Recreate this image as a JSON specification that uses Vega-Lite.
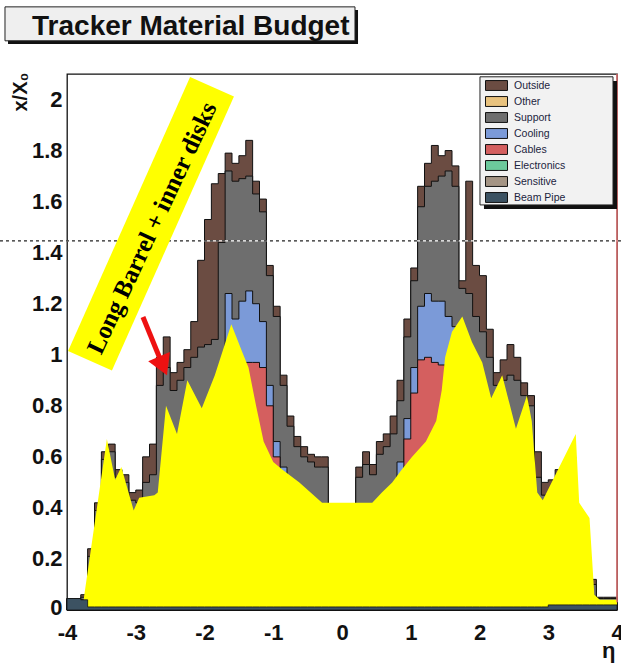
{
  "$schema": "https://vega.github.io/schema/vega-lite/v6.json",
  "width": 550,
  "height": 536,
  "autosize": "none",
  "padding": {"left": 67, "top": 74, "right": 4, "bottom": 55},
  "background": "#ffffff",
  "config": {
    "view": {"stroke": "#111111", "strokeWidth": 1.3},
    "font": "Liberation Sans",
    "axis": {"domain": false, "ticks": false, "grid": false, "labelFont": "Liberation Sans", "labelFontWeight": "bold", "labelColor": "#111111", "titleFont": "Liberation Sans", "titleFontWeight": "bold", "titleColor": "#111111", "labelOverlap": false, "labelFlush": false}
  },
  "datasets": {
    "hist": [
      {"eta": -4.0, "T": 0.045, "S": 0.045, "C": 0.045, "R": 0.045, "B": 0.045},
      {"eta": -3.9, "T": 0.045, "S": 0.045, "C": 0.045, "R": 0.045, "B": 0.045},
      {"eta": -3.8, "T": 0.06, "S": 0.05, "C": 0.04, "R": 0.04, "B": 0.04},
      {"eta": -3.7, "T": 0.24, "S": 0.21, "C": 0.02, "R": 0.02, "B": 0.012},
      {"eta": -3.6, "T": 0.42, "S": 0.39, "C": 0.02, "R": 0.02, "B": 0.012},
      {"eta": -3.5, "T": 0.62, "S": 0.59, "C": 0.02, "R": 0.02, "B": 0.012},
      {"eta": -3.4, "T": 0.65, "S": 0.62, "C": 0.02, "R": 0.02, "B": 0.012},
      {"eta": -3.3, "T": 0.55, "S": 0.52, "C": 0.02, "R": 0.02, "B": 0.012},
      {"eta": -3.2, "T": 0.53, "S": 0.5, "C": 0.02, "R": 0.02, "B": 0.012},
      {"eta": -3.1, "T": 0.46, "S": 0.43, "C": 0.02, "R": 0.02, "B": 0.012},
      {"eta": -3.0, "T": 0.47, "S": 0.42, "C": 0.02, "R": 0.02, "B": 0.012},
      {"eta": -2.9, "T": 0.6, "S": 0.5, "C": 0.02, "R": 0.02, "B": 0.012},
      {"eta": -2.8, "T": 0.65, "S": 0.53, "C": 0.02, "R": 0.02, "B": 0.012},
      {"eta": -2.7, "T": 0.99, "S": 0.88, "C": 0.02, "R": 0.02, "B": 0.012},
      {"eta": -2.6, "T": 1.07, "S": 0.95, "C": 0.02, "R": 0.02, "B": 0.012},
      {"eta": -2.5, "T": 0.93, "S": 0.86, "C": 0.02, "R": 0.02, "B": 0.012},
      {"eta": -2.4, "T": 0.97, "S": 0.9, "C": 0.02, "R": 0.02, "B": 0.012},
      {"eta": -2.3, "T": 1.02, "S": 0.95, "C": 0.02, "R": 0.02, "B": 0.012},
      {"eta": -2.2, "T": 1.13, "S": 0.99, "C": 0.02, "R": 0.02, "B": 0.012},
      {"eta": -2.1, "T": 1.37, "S": 1.03, "C": 0.02, "R": 0.02, "B": 0.012},
      {"eta": -2.0, "T": 1.53, "S": 1.04, "C": 0.02, "R": 0.02, "B": 0.012},
      {"eta": -1.9, "T": 1.67, "S": 1.06, "C": 0.02, "R": 0.02, "B": 0.012},
      {"eta": -1.8, "T": 1.71, "S": 1.44, "C": 0.02, "R": 0.02, "B": 0.012},
      {"eta": -1.7, "T": 1.79, "S": 1.72, "C": 1.24, "R": 0.9, "B": 0.012},
      {"eta": -1.6, "T": 1.75, "S": 1.68, "C": 1.14, "R": 0.9, "B": 0.012},
      {"eta": -1.5, "T": 1.78, "S": 1.69, "C": 1.21, "R": 0.9, "B": 0.012},
      {"eta": -1.4, "T": 1.84, "S": 1.7, "C": 1.25, "R": 0.97, "B": 0.012},
      {"eta": -1.3, "T": 1.68, "S": 1.63, "C": 1.2, "R": 0.97, "B": 0.012},
      {"eta": -1.2, "T": 1.61, "S": 1.56, "C": 1.13, "R": 0.95, "B": 0.012},
      {"eta": -1.1, "T": 1.35, "S": 1.31, "C": 0.88, "R": 0.8, "B": 0.012},
      {"eta": -1.0, "T": 1.19, "S": 1.15, "C": 0.66, "R": 0.6, "B": 0.012},
      {"eta": -0.9, "T": 0.92, "S": 0.88, "C": 0.56, "R": 0.53, "B": 0.012},
      {"eta": -0.8, "T": 0.76, "S": 0.72, "C": 0.02, "R": 0.02, "B": 0.012},
      {"eta": -0.7, "T": 0.68, "S": 0.64, "C": 0.02, "R": 0.02, "B": 0.012},
      {"eta": -0.6, "T": 0.64, "S": 0.6, "C": 0.02, "R": 0.02, "B": 0.012},
      {"eta": -0.5, "T": 0.61, "S": 0.58, "C": 0.02, "R": 0.02, "B": 0.012},
      {"eta": -0.4, "T": 0.6, "S": 0.56, "C": 0.02, "R": 0.02, "B": 0.012},
      {"eta": -0.3, "T": 0.6, "S": 0.56, "C": 0.02, "R": 0.02, "B": 0.012},
      {"eta": -0.2, "T": 0.38, "S": 0.38, "C": 0.02, "R": 0.02, "B": 0.012},
      {"eta": -0.1, "T": 0.38, "S": 0.38, "C": 0.02, "R": 0.02, "B": 0.012},
      {"eta": 0.0, "T": 0.38, "S": 0.38, "C": 0.02, "R": 0.02, "B": 0.012},
      {"eta": 0.1, "T": 0.38, "S": 0.38, "C": 0.02, "R": 0.02, "B": 0.012},
      {"eta": 0.2, "T": 0.56, "S": 0.52, "C": 0.02, "R": 0.02, "B": 0.012},
      {"eta": 0.3, "T": 0.62, "S": 0.57, "C": 0.02, "R": 0.02, "B": 0.012},
      {"eta": 0.4, "T": 0.57, "S": 0.53, "C": 0.02, "R": 0.02, "B": 0.012},
      {"eta": 0.5, "T": 0.66, "S": 0.61, "C": 0.02, "R": 0.02, "B": 0.012},
      {"eta": 0.6, "T": 0.69, "S": 0.64, "C": 0.02, "R": 0.02, "B": 0.012},
      {"eta": 0.7, "T": 0.76, "S": 0.69, "C": 0.02, "R": 0.02, "B": 0.012},
      {"eta": 0.8, "T": 0.9, "S": 0.82, "C": 0.58, "R": 0.52, "B": 0.012},
      {"eta": 0.9, "T": 1.14, "S": 1.07, "C": 0.75, "R": 0.67, "B": 0.012},
      {"eta": 1.0, "T": 1.34, "S": 1.29, "C": 0.95, "R": 0.85, "B": 0.012},
      {"eta": 1.1, "T": 1.66, "S": 1.58, "C": 1.19, "R": 0.98, "B": 0.012},
      {"eta": 1.2, "T": 1.75, "S": 1.66, "C": 1.24, "R": 0.99, "B": 0.012},
      {"eta": 1.3, "T": 1.82, "S": 1.68, "C": 1.21, "R": 0.97, "B": 0.012},
      {"eta": 1.4, "T": 1.78, "S": 1.7, "C": 1.21, "R": 0.96, "B": 0.012},
      {"eta": 1.5, "T": 1.8, "S": 1.72, "C": 1.15, "R": 0.9, "B": 0.012},
      {"eta": 1.6, "T": 1.74, "S": 1.66, "C": 1.11, "R": 0.85, "B": 0.012},
      {"eta": 1.7, "T": 1.29, "S": 1.26, "C": 0.02, "R": 0.02, "B": 0.012},
      {"eta": 1.8, "T": 1.68, "S": 1.24, "C": 0.02, "R": 0.02, "B": 0.012},
      {"eta": 1.9, "T": 1.35, "S": 1.15, "C": 0.02, "R": 0.02, "B": 0.012},
      {"eta": 2.0, "T": 1.31, "S": 1.09, "C": 0.02, "R": 0.02, "B": 0.012},
      {"eta": 2.1, "T": 1.1, "S": 0.99, "C": 0.02, "R": 0.02, "B": 0.012},
      {"eta": 2.2, "T": 0.93, "S": 0.88, "C": 0.02, "R": 0.02, "B": 0.012},
      {"eta": 2.3, "T": 0.98, "S": 0.9, "C": 0.02, "R": 0.02, "B": 0.012},
      {"eta": 2.4, "T": 1.04, "S": 0.92, "C": 0.02, "R": 0.02, "B": 0.012},
      {"eta": 2.5, "T": 0.99, "S": 0.9, "C": 0.02, "R": 0.02, "B": 0.012},
      {"eta": 2.6, "T": 0.89, "S": 0.84, "C": 0.02, "R": 0.02, "B": 0.012},
      {"eta": 2.7, "T": 0.84, "S": 0.8, "C": 0.02, "R": 0.02, "B": 0.012},
      {"eta": 2.8, "T": 0.62, "S": 0.52, "C": 0.02, "R": 0.02, "B": 0.012},
      {"eta": 2.9, "T": 0.5, "S": 0.45, "C": 0.02, "R": 0.02, "B": 0.012},
      {"eta": 3.0, "T": 0.51, "S": 0.45, "C": 0.02, "R": 0.02, "B": 0.02},
      {"eta": 3.1, "T": 0.55, "S": 0.48, "C": 0.02, "R": 0.02, "B": 0.02},
      {"eta": 3.2, "T": 0.57, "S": 0.5, "C": 0.02, "R": 0.02, "B": 0.02},
      {"eta": 3.3, "T": 0.6, "S": 0.52, "C": 0.02, "R": 0.02, "B": 0.02},
      {"eta": 3.4, "T": 0.35, "S": 0.3, "C": 0.02, "R": 0.02, "B": 0.02},
      {"eta": 3.5, "T": 0.3, "S": 0.25, "C": 0.02, "R": 0.02, "B": 0.02},
      {"eta": 3.6, "T": 0.12, "S": 0.1, "C": 0.02, "R": 0.02, "B": 0.02},
      {"eta": 3.7, "T": 0.05, "S": 0.045, "C": 0.02, "R": 0.02, "B": 0.02},
      {"eta": 3.8, "T": 0.05, "S": 0.045, "C": 0.02, "R": 0.02, "B": 0.02},
      {"eta": 3.9, "T": 0.05, "S": 0.045, "C": 0.02, "R": 0.02, "B": 0.02},
      {"eta": 4.0, "T": 0.05, "S": 0.045, "C": 0.02, "R": 0.02, "B": 0.02}
    ],
    "yellow": [
      {"eta": -3.78, "v": 0.0}, {"eta": -3.42, "v": 0.67}, {"eta": -3.3, "v": 0.51}, {"eta": -3.21, "v": 0.56},
      {"eta": -3.03, "v": 0.39}, {"eta": -2.95, "v": 0.44}, {"eta": -2.73, "v": 0.45}, {"eta": -2.68, "v": 0.46},
      {"eta": -2.56, "v": 0.8}, {"eta": -2.4, "v": 0.69}, {"eta": -2.25, "v": 0.9}, {"eta": -2.04, "v": 0.79},
      {"eta": -1.85, "v": 0.92}, {"eta": -1.61, "v": 1.12}, {"eta": -1.45, "v": 1.01}, {"eta": -1.36, "v": 0.95},
      {"eta": -1.25, "v": 0.8}, {"eta": -1.14, "v": 0.66}, {"eta": -1.0, "v": 0.58}, {"eta": -0.87, "v": 0.55},
      {"eta": -0.62, "v": 0.5}, {"eta": -0.29, "v": 0.42}, {"eta": 0.44, "v": 0.42}, {"eta": 0.58, "v": 0.46},
      {"eta": 0.73, "v": 0.5}, {"eta": 0.87, "v": 0.55}, {"eta": 1.02, "v": 0.6}, {"eta": 1.22, "v": 0.66},
      {"eta": 1.37, "v": 0.74}, {"eta": 1.45, "v": 0.86}, {"eta": 1.5, "v": 0.99}, {"eta": 1.6, "v": 1.09},
      {"eta": 1.75, "v": 1.15}, {"eta": 1.89, "v": 1.05}, {"eta": 2.04, "v": 0.97}, {"eta": 2.17, "v": 0.83},
      {"eta": 2.33, "v": 0.92}, {"eta": 2.53, "v": 0.71}, {"eta": 2.69, "v": 0.84}, {"eta": 2.76, "v": 0.74},
      {"eta": 2.84, "v": 0.46}, {"eta": 2.92, "v": 0.43}, {"eta": 3.4, "v": 0.69}, {"eta": 3.45, "v": 0.42},
      {"eta": 3.6, "v": 0.36}, {"eta": 3.67, "v": 0.06}, {"eta": 3.75, "v": 0.04}, {"eta": 4.0, "v": 0.04}
    ],
    "yMajorTicks": [
      {"v": 0.2}, {"v": 0.4}, {"v": 0.6}, {"v": 0.8}, {"v": 1.0}, {"v": 1.2}, {"v": 1.4}, {"v": 1.6}, {"v": 1.8}, {"v": 2.0}
    ],
    "yMinorTicks": [
      {"v": 0.04}, {"v": 0.08}, {"v": 0.12}, {"v": 0.16}, {"v": 0.24}, {"v": 0.28}, {"v": 0.32}, {"v": 0.36},
      {"v": 0.44}, {"v": 0.48}, {"v": 0.52}, {"v": 0.56}, {"v": 0.64}, {"v": 0.68}, {"v": 0.72}, {"v": 0.76},
      {"v": 0.84}, {"v": 0.88}, {"v": 0.92}, {"v": 0.96}, {"v": 1.04}, {"v": 1.08}, {"v": 1.12}, {"v": 1.16},
      {"v": 1.24}, {"v": 1.28}, {"v": 1.32}, {"v": 1.36}, {"v": 1.44}, {"v": 1.48}, {"v": 1.52}, {"v": 1.56},
      {"v": 1.64}, {"v": 1.68}, {"v": 1.72}, {"v": 1.76}, {"v": 1.84}, {"v": 1.88}, {"v": 1.92}, {"v": 1.96},
      {"v": 2.04}, {"v": 2.08}
    ],
    "xMajorTicks": [
      {"eta": -3}, {"eta": -2}, {"eta": -1}, {"eta": 0}, {"eta": 1}, {"eta": 2}, {"eta": 3}
    ],
    "xMinorTicks": [
      {"eta": -3.8}, {"eta": -3.6}, {"eta": -3.4}, {"eta": -3.2}, {"eta": -2.8}, {"eta": -2.6}, {"eta": -2.4}, {"eta": -2.2},
      {"eta": -1.8}, {"eta": -1.6}, {"eta": -1.4}, {"eta": -1.2}, {"eta": -0.8}, {"eta": -0.6}, {"eta": -0.4}, {"eta": -0.2},
      {"eta": 0.2}, {"eta": 0.4}, {"eta": 0.6}, {"eta": 0.8}, {"eta": 1.2}, {"eta": 1.4}, {"eta": 1.6}, {"eta": 1.8},
      {"eta": 2.2}, {"eta": 2.4}, {"eta": 2.6}, {"eta": 2.8}, {"eta": 3.2}, {"eta": 3.4}, {"eta": 3.6}, {"eta": 3.8}
    ]
  },
  "encoding": {
    "x": {
      "field": "eta", "type": "quantitative",
      "scale": {"domain": [-4, 4], "nice": false, "zero": false},
      "axis": {
        "title": "η",
        "values": [-4, -3, -2, -1, 0, 1, 2, 3, 4],
        "labelExpr": "'' + round(datum.value)",
        "labelPadding": 12,
        "labelFontSize": 22,
        "titleFontSize": 22,
        "titleAnchor": "end",
        "titleAlign": "right",
        "titleBaseline": "middle",
        "titleX": 548,
        "titleY": 40
      }
    },
    "y": {
      "field": "v", "type": "quantitative",
      "scale": {"domain": [0, 2.1], "nice": false},
      "axis": {
        "title": "x/X₀",
        "values": [0, 0.2, 0.4, 0.6, 0.8, 1, 1.2, 1.4, 1.6, 1.8, 2],
        "labelExpr": "'' + round(datum.value*10)/10",
        "labelPadding": 5,
        "labelFontSize": 22,
        "labelOffset": {"condition": {"test": "datum.value == 0", "value": -3}, "value": 0},
        "titleFontSize": 20,
        "titleAngle": 270,
        "titleAnchor": "end",
        "titleAlign": "right",
        "titleBaseline": "middle",
        "titleX": -47,
        "titleY": -2,
        "zindex": 1
      }
    }
  },
  "layer": [
    {
      "data": {"values": [{"eta": -4.858, "eta2": 0.233, "v": 2.351, "v2": 2.218}]},
      "mark": {"type": "rect", "color": "#111111"},
      "encoding": {"x2": {"field": "eta2"}, "y2": {"field": "v2"}}
    },
    {
      "data": {"values": [{"eta": -4.902, "eta2": 0.189, "v": 2.363, "v2": 2.23}]},
      "mark": {"type": "rect", "fill": "#efefef", "stroke": "#222222", "strokeWidth": 1},
      "encoding": {"x2": {"field": "eta2"}, "y2": {"field": "v2"}}
    },
    {
      "data": {"values": [{"eta": -2.2, "v": 2.253, "label": "Tracker Material Budget"}]},
      "mark": {"type": "text", "font": "Liberation Sans", "fontSize": 28, "fontWeight": "bold", "align": "center", "baseline": "alphabetic", "color": "#111111"},
      "encoding": {"text": {"field": "label"}}
    },
    {
      "data": {"name": "xMajorTicks"},
      "mark": {"type": "rule", "color": "#000000", "strokeWidth": 1.5},
      "encoding": {"y": {"datum": 0}, "y2": {"datum": 0.047}}
    },
    {
      "data": {"name": "xMinorTicks"},
      "mark": {"type": "rule", "color": "#000000", "strokeWidth": 1.5},
      "encoding": {"y": {"datum": 0}, "y2": {"datum": 0.024}}
    },
    {
      "data": {"name": "hist"},
      "transform": [{"fold": ["T"], "as": ["comp", "v"]}],
      "mark": {"type": "area", "interpolate": "step-after", "stroke": "#111111", "strokeWidth": 1},
      "encoding": {
        "color": {
          "datum": "Outside", "type": "nominal",
          "scale": {
            "domain": ["Outside", "Other", "Support", "Cooling", "Cables", "Electronics", "Sensitive", "Beam Pipe"],
            "range": ["#6b4c42", "#e8c27e", "#6e6e6e", "#7b9ad8", "#d45f5f", "#6cc99c", "#a49484", "#3c5262"]
          },
          "legend": {
            "orient": "none", "legendX": 423.5, "legendY": 5.5, "direction": "vertical", "title": null,
            "symbolType": "M-2,-0.9L2,-0.9L2,0.9L-2,0.9Z", "symbolSize": 121,
            "symbolStrokeColor": "#111111", "symbolStrokeWidth": 1, "symbolOpacity": 1,
            "labelFont": "Liberation Sans", "labelFontSize": 10.5, "labelColor": "#1c2440",
            "labelOffset": 11.5, "rowPadding": 2, "padding": 0, "zindex": 1
          }
        }
      }
    },
    {
      "data": {"name": "hist"},
      "transform": [{"fold": ["S"], "as": ["comp", "v"]}],
      "mark": {"type": "area", "interpolate": "step-after", "stroke": "#111111", "strokeWidth": 1},
      "encoding": {"color": {"datum": "Support", "type": "nominal"}}
    },
    {
      "data": {"name": "hist"},
      "transform": [{"fold": ["C"], "as": ["comp", "v"]}],
      "mark": {"type": "area", "interpolate": "step-after", "stroke": "#111111", "strokeWidth": 1},
      "encoding": {"color": {"datum": "Cooling", "type": "nominal"}}
    },
    {
      "data": {"name": "hist"},
      "transform": [{"fold": ["R"], "as": ["comp", "v"]}],
      "mark": {"type": "area", "interpolate": "step-after", "stroke": "#111111", "strokeWidth": 1},
      "encoding": {"color": {"datum": "Cables", "type": "nominal"}}
    },
    {
      "data": {"name": "yellow"},
      "mark": {"type": "area", "interpolate": "linear", "color": "#ffff00"},
      "encoding": {}
    },
    {
      "data": {"name": "hist"},
      "transform": [{"fold": ["B"], "as": ["comp", "v"]}],
      "mark": {"type": "area", "interpolate": "step-after", "stroke": "#111111", "strokeWidth": 0.8},
      "encoding": {"color": {"datum": "Beam Pipe", "type": "nominal"}}
    },
    {
      "data": {"values": [{"eta": -4.975, "eta2": 4.058, "v": 1.446}]},
      "mark": {"type": "rule", "color": "#ffffff", "strokeWidth": 1.2},
      "encoding": {"x2": {"field": "eta2"}}
    },
    {
      "data": {"values": [{"eta": -4.975, "eta2": 4.058, "v": 1.446}]},
      "mark": {"type": "rule", "color": "#222222", "strokeWidth": 1.2, "strokeDash": [3, 3]},
      "encoding": {"x2": {"field": "eta2"}}
    },
    {
      "data": {"values": [{"eta": 4, "v": 0.03, "v2": 2.1}]},
      "mark": {"type": "rule", "color": "#e07070", "strokeWidth": 1.5},
      "encoding": {"y2": {"field": "v2"}}
    },
    {
      "data": {"name": "yMajorTicks"},
      "mark": {"type": "rule", "color": "#000000", "strokeWidth": 1.6},
      "encoding": {"x": {"datum": -4}, "x2": {"datum": -3.775}}
    },
    {
      "data": {"name": "yMinorTicks"},
      "mark": {"type": "rule", "color": "#000000", "strokeWidth": 1.4},
      "encoding": {"x": {"datum": -4}, "x2": {"datum": -3.88}}
    },
    {
      "data": {"values": [{"eta": -2.778, "v": 1.513}]},
      "mark": {"type": "point", "shape": "M-1,-0.16L1,-0.16L1,0.16L-1,0.16Z", "size": 90000, "angle": 294, "filled": true, "color": "#ffff00", "opacity": 1},
      "encoding": {}
    },
    {
      "data": {"values": [{"eta": -2.764, "v": 1.497, "label": "Long Barrel + inner disks"}]},
      "mark": {"type": "text", "angle": 295, "font": "Liberation Serif", "fontSize": 25, "fontWeight": "bold", "color": "#000000", "align": "center", "baseline": "middle"},
      "encoding": {"text": {"field": "label"}}
    },
    {
      "data": {"values": [{"eta": -2.895, "v": 1.148, "eta2": -2.604, "v2": 0.956}]},
      "mark": {"type": "rule", "color": "#ee1111", "strokeWidth": 5},
      "encoding": {"x2": {"field": "eta2"}, "y2": {"field": "v2"}}
    },
    {
      "data": {"values": [{"eta": -2.604, "v": 0.956}]},
      "mark": {"type": "point", "shape": "triangle-up", "size": 550, "angle": 157, "filled": true, "color": "#ee1111", "opacity": 1},
      "encoding": {}
    },
    {
      "data": {"values": [{"eta": 2.065, "eta2": 4.0, "v": 2.073, "v2": 1.571}]},
      "mark": {"type": "rect", "color": "#111111"},
      "encoding": {"x2": {"field": "eta2"}, "y2": {"field": "v2"}}
    },
    {
      "data": {"values": [{"eta": 2.007, "eta2": 3.942, "v": 2.089, "v2": 1.587}]},
      "mark": {"type": "rect", "fill": "#f2f2f2", "stroke": "#222222", "strokeWidth": 1},
      "encoding": {"x2": {"field": "eta2"}, "y2": {"field": "v2"}}
    }
  ]
}
